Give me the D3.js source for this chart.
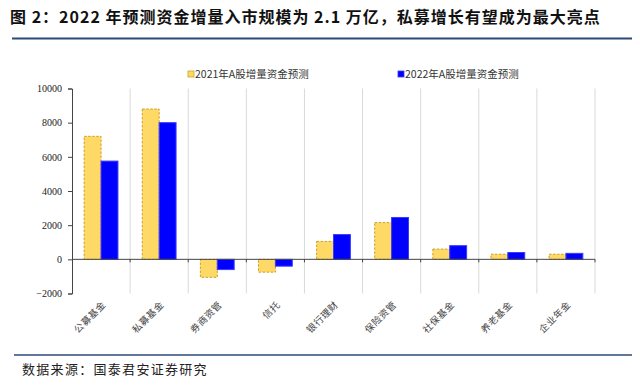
<!DOCTYPE html>
<html>
<head>
<meta charset="utf-8">
<script src="https://cdn.jsdelivr.net/npm/d3@7"></script>
<style>
  body { margin: 0; background: #fff; }
  svg { display: block; }
</style>
</head>
<body>
<div id="main"></div>
<script>
var categories = ["公募基金", "私募基金", "券商资管", "信托", "银行理财", "保险资管", "社保基金", "养老基金", "企业年金"];
var series2021 = [7200, 8800, -1050, -750, 1050, 2150, 600, 300, 300];
var series2022 = [5750, 8000, -600, -400, 1450, 2450, 800, 400, 350];
var seriesNames = ["2021年A股增量资金预测", "2022年A股增量资金预测"];
var yTicks = [-2000, 0, 2000, 4000, 6000, 8000, 10000];

var width = 640,
    height = 388;

var cjk = "'Noto Sans CJK SC', 'Noto Sans', sans-serif";
var serif = "'Liberation Serif', 'DejaVu Serif', serif";

var svg = d3.select("#main").append("svg")
    .attr("width", width)
    .attr("height", height);

// title
svg.append("text")
    .attr("x", 10)
    .attr("y", 23)
    .style("font-family", cjk)
    .style("font-weight", "bold")
    .style("font-size", "16px")
    .style("letter-spacing", "1px")
    .attr("fill", "#111")
    .text("图 2：2022 年预测资金增量入市规模为 2.1 万亿，私募增长有望成为最大亮点");

svg.append("line")
    .attr("x1", 12).attr("x2", 632)
    .attr("y1", 38.5).attr("y2", 38.5)
    .attr("stroke", "#2e4a78")
    .attr("stroke-width", 2);

var x = d3.scaleBand()
    .domain(categories)
    .range([72, 595]);

var x1 = d3.scaleBand()
    .domain([0, 1])
    .range([0, x.bandwidth()])
    .paddingOuter(0.72)
    .paddingInner(0);

var y = d3.scaleLinear()
    .domain([-2000, 10000])
    .range([293.5, 88.5]);

// vertical gridlines at category boundaries
var bounds = categories.map(function(c) { return x(c) + x.bandwidth(); });
svg.selectAll(".grid")
    .data(bounds)
    .enter().append("line")
    .attr("class", "grid")
    .attr("x1", function(d) { return d; })
    .attr("x2", function(d) { return d; })
    .attr("y1", y(10000))
    .attr("y2", y(-2000))
    .attr("stroke", "#d9d9d9")
    .attr("stroke-width", 1);

// bars
var colors = ["#ffd966", "#0000ff"];
var strokes = ["#c9a227", "#3b3bff"];
[series2021, series2022].forEach(function(vals, s) {
    svg.selectAll(".bar" + s)
        .data(vals)
        .enter().append("rect")
        .attr("class", "bar" + s)
        .attr("x", function(d, i) { return x(categories[i]) + x1(s); })
        .attr("width", x1.bandwidth())
        .attr("y", function(d) { return y(Math.max(0, d)); })
        .attr("height", function(d) { return Math.abs(y(d) - y(0)); })
        .attr("fill", colors[s])
        .attr("stroke", strokes[s])
        .attr("stroke-width", 1)
        .attr("stroke-dasharray", s == 0 ? "2.5,1.5" : null);
});

// y axis
var yAxis = svg.append("g")
    .attr("transform", "translate(72,0)")
    .call(d3.axisLeft(y).tickValues(yTicks).tickSize(4).tickPadding(6).tickFormat(d3.format("d")));
yAxis.select(".domain").attr("stroke", "#444");
yAxis.selectAll(".tick line").attr("stroke", "#444");
yAxis.selectAll("text")
    .style("font-family", serif)
    .style("font-size", "10px")
    .attr("fill", "#222");

// x axis at zero
var xAxis = svg.append("g")
    .attr("transform", "translate(0," + y(0) + ")");
xAxis.append("line")
    .attr("x1", 72).attr("x2", 595)
    .attr("y1", 0).attr("y2", 0)
    .attr("stroke", "#444");
xAxis.selectAll(".xt")
    .data(bounds)
    .enter().append("line")
    .attr("x1", function(d) { return d; })
    .attr("x2", function(d) { return d; })
    .attr("y1", 0).attr("y2", 3)
    .attr("stroke", "#444");

// rotated category labels
svg.selectAll(".xlabel")
    .data(categories)
    .enter().append("text")
    .attr("class", "xlabel")
    .attr("transform", function(d) {
        return "translate(" + (x(d) + x.bandwidth() / 2 + 3) + ",303) rotate(-45)";
    })
    .attr("text-anchor", "end")
    .attr("dy", "0.35em")
    .style("font-family", cjk)
    .style("font-size", "9.5px")
    .style("letter-spacing", "0.5px")
    .attr("fill", "#444")
    .text(function(d) { return d; });

// legend
var legendX = [188, 398];
seriesNames.forEach(function(name, s) {
    svg.append("rect")
        .attr("x", legendX[s])
        .attr("y", 71)
        .attr("width", 6)
        .attr("height", 6)
        .attr("fill", colors[s])
        .attr("stroke", strokes[s])
        .attr("stroke-width", 0.8);
    svg.append("text")
        .attr("x", legendX[s] + 7)
        .attr("y", 78)
        .style("font-family", cjk)
        .style("font-size", "10.5px")
        .attr("fill", "#333")
        .text(name);
});

// footer
svg.append("line")
    .attr("x1", 14).attr("x2", 632)
    .attr("y1", 355).attr("y2", 355)
    .attr("stroke", "#2e4a78")
    .attr("stroke-width", 1.5);

svg.append("text")
    .attr("x", 22)
    .attr("y", 374)
    .style("font-family", cjk)
    .style("font-size", "13px")
    .style("letter-spacing", "1.3px")
    .attr("fill", "#222")
    .text("数据来源：国泰君安证券研究");
</script>
</body>
</html>
